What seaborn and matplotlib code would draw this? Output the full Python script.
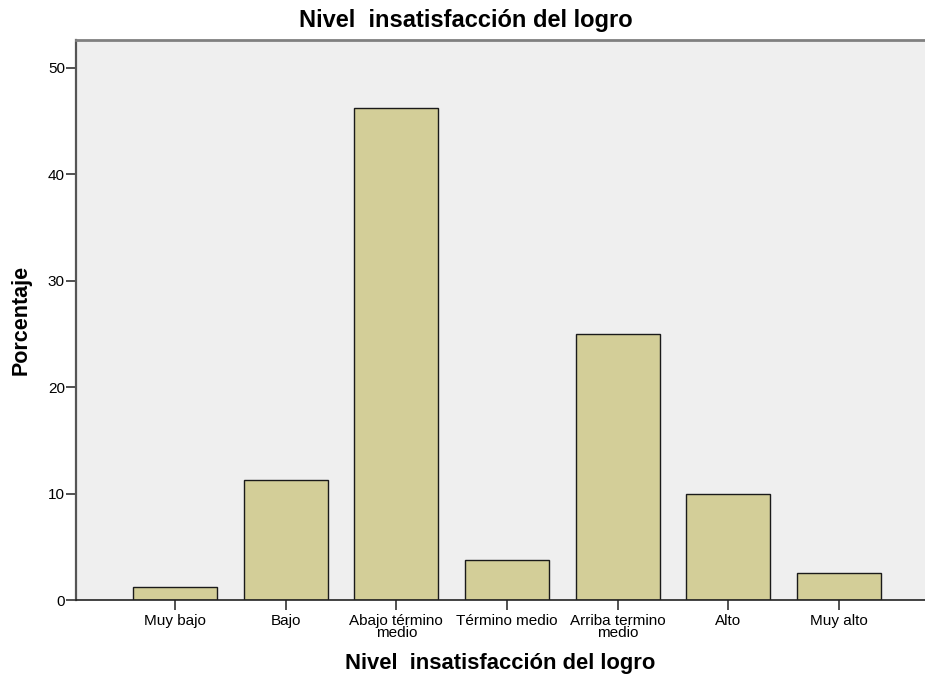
import matplotlib
matplotlib.use("Agg")
import matplotlib.pyplot as plt
import seaborn as sns
import pandas as pd

categories = ["Muy bajo", "Bajo", "Abajo término\nmedio", "Término medio",
              "Arriba termino\nmedio", "Alto", "Muy alto"]
percentages = [1.25, 11.25, 46.25, 3.75, 25.0, 10.0, 2.5]
y_ticks = [0, 10, 20, 30, 40, 50]
title_text = "Nivel  insatisfacción del logro"
xlabel_text = "Nivel  insatisfacción del logro"
ylabel_text = "Porcentaje"

sns.set_style("white")
plt.rcParams["font.family"] = ["Liberation Sans", "DejaVu Sans"]
plt.rcParams["text.color"] = "black"
plt.rcParams["axes.labelcolor"] = "black"
plt.rcParams["xtick.color"] = "black"
plt.rcParams["ytick.color"] = "black"

df = pd.DataFrame({"cat": categories, "pct": percentages})

fig = plt.figure(figsize=(9.25, 6.8), dpi=100)
ax = fig.add_axes([76/925, 1 - 600/680, 1 - 76/925, (600 - 40)/680])
ax.set_facecolor("#EFEFEF")

sns.barplot(data=df, x="cat", y="pct", ax=ax, color="#D3CE98",
            edgecolor="#1a1a1a", linewidth=1.0, width=0.76, saturation=1)

ax.set_xlim(-0.895, 6.777)
ax.set_ylim(0, 52.63)
ax.set_yticks(y_ticks)
ax.set_yticklabels([str(v) for v in y_ticks])

ax.tick_params(axis="y", direction="out", length=7, width=1.2, color="#333333",
               labelcolor="black", labelsize=11, pad=1, left=True)
ax.tick_params(axis="x", direction="out", length=7, width=1.2, color="#333333",
               labelcolor="black", labelsize=11, pad=3, bottom=True)
for lab in ax.get_xticklabels():
    lab.set_linespacing(0.85)

ax.spines["right"].set_visible(False)
ax.spines["left"].set_color("#555555")
ax.spines["left"].set_linewidth(1.6)
ax.spines["top"].set_color("#808080")
ax.spines["top"].set_linewidth(2.0)
ax.spines["bottom"].set_color("#222222")
ax.spines["bottom"].set_linewidth(1.2)

ax.set_xlabel(xlabel_text, fontsize=15.8, fontweight="bold", labelpad=9,
              color="black")
ax.set_ylabel(ylabel_text, fontsize=15.5, fontweight="bold", labelpad=12,
              color="black")
fig.text(466/925, 1 - 20/680, title_text, ha="center", va="center",
         fontsize=17, fontweight="bold", color="black")

fig.savefig("out.png", dpi=100)
